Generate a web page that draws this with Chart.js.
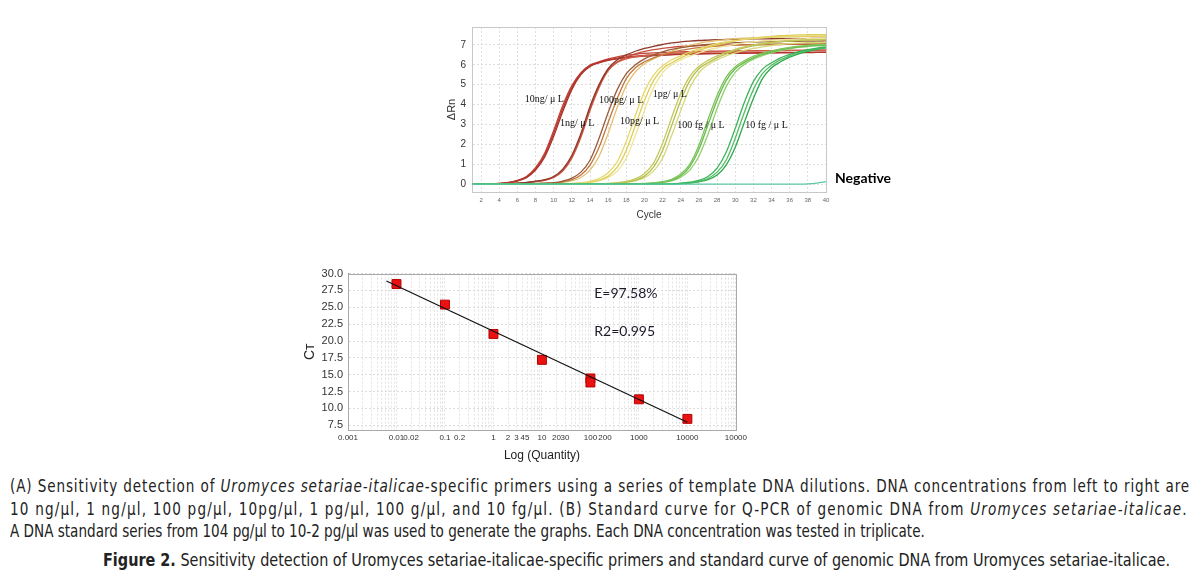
<!DOCTYPE html>
<html>
<head>
<meta charset="utf-8">
<script src="https://cdn.jsdelivr.net/npm/chart.js@4.4.1/dist/chart.umd.min.js"></script>
<style>
body { margin:0; background:#fff; width:1204px; height:580px; position:relative; overflow:hidden; }
#box_amp { position:absolute; left:436px; top:15px; width:464px; height:215px; }
#box_std { position:absolute; left:290px; top:262px; width:460px; height:205px; }
.cap { position:absolute; left:10px; white-space:nowrap; font-family:"Liberation Sans Narrow","DejaVu Sans","Liberation Sans",sans-serif; font-stretch:condensed; font-size:17px; line-height:20px; color:#222; transform-origin:0 50%; }
</style>
</head>
<body>
<div id="box_amp"><canvas id="amp_chart" width="464" height="215"></canvas></div>
<div id="box_std"><canvas id="std_chart" width="460" height="205"></canvas></div>

<div class="cap" id="cap1" style="top:476px">(A) Sensitivity detection of <i>Uromyces setariae-italicae</i>-specific primers using a series of template DNA dilutions. DNA concentrations from left to right are</div>
<div class="cap" id="cap2" style="top:499px">10 ng/μl, 1 ng/μl, 100 pg/μl, 10pg/μl, 1 pg/μl, 100 g/μl, and 10 fg/μl. (B) Standard curve for Q-PCR of genomic DNA from <i>Uromyces setariae-italicae</i>.</div>
<div class="cap" id="cap3" style="top:521px">A DNA standard series from 104 pg/μl to 10-2 pg/μl was used to generate the graphs. Each DNA concentration was tested in triplicate.</div>
<div class="cap" id="cap4" style="top:550px;left:103px"><b>Figure 2.</b> Sensitivity detection of Uromyces setariae-italicae-specific primers and standard curve of genomic DNA from Uromyces setariae-italicae.</div>

<script>
// --- (A) amplification curves, ΔRn per cycle ---
let cycles = [1,2,3,4,5,6,7,8,9,10,11,12,13,14,15,16,17,18,19,20,21,22,23,24,25,26,27,28,29,30,31,32,33,34,35,36,37,38,39,40];

let rn_10ng_a = [0,0,0.01,0.03,0.07,0.17,0.35,0.75,1.45,2.55,3.8,4.85,5.55,5.95,6.12,6.25,6.33,6.4,6.44,6.47,6.5,6.52,6.54,6.55,6.56,6.57,6.58,6.58,6.59,6.6,6.6,6.6,6.61,6.61,6.62,6.62,6.62,6.63,6.63,6.63];
let rn_10ng_b = [0,0,0.01,0.03,0.08,0.19,0.38,0.82,1.55,2.7,3.95,4.95,5.6,5.98,6.15,6.3,6.4,6.48,6.53,6.57,6.6,6.62,6.64,6.65,6.66,6.67,6.68,6.68,6.69,6.7,6.7,6.7,6.71,6.71,6.72,6.72,6.72,6.73,6.73,6.73];
let rn_10ng_c = [0,0,0.01,0.02,0.06,0.15,0.32,0.7,1.35,2.4,3.65,4.75,5.5,5.92,6.1,6.22,6.3,6.36,6.4,6.43,6.46,6.48,6.5,6.52,6.53,6.54,6.55,6.56,6.57,6.58,6.58,6.59,6.59,6.6,6.6,6.6,6.61,6.61,6.62,6.62];

let rn_1ng_a = [0,0,0,0.01,0.02,0.04,0.08,0.14,0.22,0.38,0.75,1.45,2.55,3.9,5.0,5.8,6.25,6.5,6.68,6.82,6.93,7.02,7.1,7.15,7.19,7.22,7.24,7.26,7.27,7.28,7.29,7.3,7.3,7.31,7.31,7.32,7.32,7.32,7.33,7.33];
let rn_1ng_b = [0,0,0,0.01,0.02,0.04,0.07,0.13,0.2,0.35,0.7,1.35,2.45,3.8,4.95,5.75,6.15,6.38,6.55,6.67,6.76,6.83,6.88,6.92,6.95,6.97,6.98,6.99,7.0,7.0,7.01,7.01,7.02,7.02,7.02,7.03,7.03,7.03,7.03,7.04];
let rn_1ng_c = [0,0,0,0.01,0.02,0.03,0.06,0.12,0.19,0.33,0.65,1.3,2.35,3.7,4.85,5.7,6.12,6.3,6.4,6.46,6.5,6.54,6.57,6.6,6.62,6.64,6.65,6.66,6.67,6.68,6.69,6.7,6.7,6.71,6.71,6.72,6.72,6.72,6.73,6.73];

let rn_100pg_a = [0,0,0,0,0,0.01,0.02,0.03,0.05,0.07,0.15,0.3,0.6,1.2,2.3,3.6,4.75,5.55,6.0,6.3,6.5,6.65,6.77,6.86,6.93,6.98,7.02,7.06,7.09,7.11,7.13,7.14,7.15,7.16,7.17,7.18,7.18,7.19,7.19,7.2];
let rn_100pg_b = [0,0,0,0,0,0,0.01,0.02,0.03,0.05,0.11,0.22,0.45,0.95,1.85,3.1,4.3,5.3,5.85,6.15,6.35,6.5,6.62,6.72,6.8,6.86,6.9,6.94,6.97,6.99,7.0,7.01,7.02,7.03,7.04,7.04,7.05,7.05,7.05,7.06];
let rn_100pg_c = [0,0,0,0,0,0,0,0.01,0.02,0.04,0.08,0.17,0.33,0.7,1.4,2.55,3.85,4.95,5.65,6.05,6.3,6.5,6.68,6.85,6.98,7.08,7.16,7.22,7.27,7.31,7.34,7.36,7.38,7.39,7.4,7.41,7.41,7.42,7.42,7.42];

let rn_10pg_a = [0,0,0,0,0,0,0,0,0,0,0.01,0.03,0.07,0.14,0.28,0.57,1.12,2.15,3.45,4.65,5.48,5.95,6.25,6.45,6.65,6.8,6.95,7.06,7.15,7.22,7.28,7.32,7.36,7.39,7.41,7.43,7.44,7.45,7.45,7.46];
let rn_10pg_b = [0,0,0,0,0,0,0,0,0,0,0.01,0.02,0.05,0.1,0.2,0.4,0.85,1.7,2.95,4.2,5.2,5.8,6.1,6.35,6.55,6.72,6.88,7.0,7.1,7.2,7.28,7.34,7.39,7.43,7.46,7.48,7.5,7.51,7.52,7.52];
let rn_10pg_c = [0,0,0,0,0,0,0,0,0,0,0,0.02,0.04,0.08,0.16,0.32,0.65,1.3,2.45,3.7,4.85,5.6,6.0,6.25,6.45,6.6,6.75,6.85,6.95,7.03,7.1,7.15,7.2,7.23,7.26,7.28,7.3,7.31,7.32,7.33];

let rn_1pg_a = [0,0,0,0,0,0,0,0,0,0,0,0,0,0,0.01,0.03,0.07,0.13,0.26,0.53,1.05,2.05,3.35,4.55,5.42,5.92,6.22,6.45,6.62,6.78,6.9,7.0,7.08,7.14,7.18,7.21,7.23,7.25,7.26,7.27];
let rn_1pg_b = [0,0,0,0,0,0,0,0,0,0,0,0,0,0,0,0.02,0.05,0.1,0.2,0.4,0.85,1.7,2.95,4.2,5.2,5.8,6.1,6.35,6.55,6.72,6.85,6.95,7.03,7.1,7.15,7.19,7.22,7.24,7.25,7.26];
let rn_1pg_c = [0,0,0,0,0,0,0,0,0,0,0,0,0,0,0,0.01,0.04,0.08,0.16,0.32,0.65,1.3,2.45,3.7,4.85,5.6,6.0,6.25,6.45,6.6,6.72,6.82,6.9,6.97,7.02,7.06,7.09,7.11,7.12,7.13];

let rn_100fg_a = [0,0,0,0,0,0,0,0,0,0,0,0,0,0,0,0,0,0,0.01,0.03,0.06,0.12,0.24,0.5,1.0,1.95,3.25,4.45,5.38,5.9,6.2,6.42,6.58,6.7,6.8,6.88,6.94,6.98,7.01,7.03];
let rn_100fg_b = [0,0,0,0,0,0,0,0,0,0,0,0,0,0,0,0,0,0,0,0.02,0.05,0.1,0.2,0.42,0.88,1.75,2.98,4.22,5.2,5.8,6.12,6.35,6.52,6.65,6.76,6.84,6.9,6.95,6.98,7.0];
let rn_100fg_c = [0,0,0,0,0,0,0,0,0,0,0,0,0,0,0,0,0,0,0,0.01,0.04,0.08,0.16,0.34,0.7,1.4,2.5,3.8,4.9,5.62,6.02,6.28,6.46,6.6,6.72,6.8,6.87,6.92,6.95,6.97];

let rn_10fg_a = [0,0,0,0,0,0,0,0,0,0,0,0,0,0,0,0,0,0,0,0,0,0,0.02,0.04,0.09,0.18,0.38,0.8,1.6,2.8,4.1,5.15,5.78,6.1,6.35,6.52,6.66,6.76,6.84,6.9];
let rn_10fg_b = [0,0,0,0,0,0,0,0,0,0,0,0,0,0,0,0,0,0,0,0,0,0,0,0.03,0.07,0.14,0.28,0.6,1.2,2.3,3.6,4.75,5.55,5.98,6.25,6.45,6.6,6.72,6.8,6.86];
let rn_10fg_c = [0,0,0,0,0,0,0,0,0,0,0,0,0,0,0,0,0,0,0,0,0,0,0,0.02,0.05,0.11,0.22,0.45,0.95,1.85,3.1,4.3,5.3,5.85,6.15,6.38,6.55,6.68,6.78,6.85];

let rn_negative = [0,0,0,0,0,0,0,0,0,0,0,0,0,0,0,0,0,0,0,0,0,0,0,0,0,0,0,0,0,0,0,0,0,0,0,0,0,0.01,0.05,0.12];

let amp_y_ticks = [0,1,2,3,4,5,6,7];
let amp_x_ticks = [2,4,6,8,10,12,14,16,18,20,22,24,26,28,30,32,34,36,38,40];

// curve labels written inside the plot (data coordinates)
let amp_labels = [
    { text: '10ng/ μ L', x: 6.8, y: 4.28 },
    { text: '1ng/ μ L', x: 10.7, y: 3.03 },
    { text: '100pg/ μ L', x: 15.0, y: 4.23 },
    { text: '10pg/ μ L', x: 17.3, y: 3.13 },
    { text: '1pg/ μ L', x: 20.9, y: 4.53 },
    { text: '100 fg / μ L', x: 23.6, y: 2.93 },
    { text: '10 fg / μ L', x: 31.1, y: 2.93 }
];

// --- (B) standard curve ---
let std_quantity = [0.01, 0.1, 1, 10, 100, 100, 1000, 10000];
let std_ct = [28.45, 25.4, 21.05, 17.2, 14.45, 13.85, 11.35, 8.45];
let fit_quantity = [0.0062, 10000];
let fit_ct = [28.9, 7.95];
let std_tick_values = [0.001, 0.01, 0.02, 0.1, 0.2, 1, 2, 3, 4, 5, 10, 20, 30, 100, 200, 1000, 10000, 100000];
let std_tick_labels = ['0.001', '0.01', '0.02', '0.1', '0.2', '1', '2', '3', '4', '5', '10', '20', '30', '100', '200', '1000', '10000', '10000'];
let std_y_ticks = [7.5, 10, 12.5, 15, 17.5, 20, 22.5, 25, 27.5, 30];

function toPoints(xs, ys) {
    return xs.map((x, i) => ({ x: x, y: ys[i] }));
}

function curve(values, color) {
    return {
        data: toPoints(cycles, values),
        borderColor: color,
        borderWidth: 1.3,
        pointRadius: 0,
        fill: false,
        cubicInterpolationMode: 'monotone'
    };
}

// box around the plot area + free text
const boxPlugin = {
    id: 'boxPlugin',
    beforeDatasetsDraw(chart, args, opts) {
        const a = chart.chartArea, ctx = chart.ctx;
        ctx.save();
        ctx.strokeStyle = opts.color || '#bbb';
        ctx.lineWidth = 1;
        ctx.strokeRect(Math.round(a.left) + 0.5, Math.round(a.top) + 0.5, Math.round(a.right - a.left), Math.round(a.bottom - a.top));
        ctx.restore();
    },
    afterDatasetsDraw(chart, args, opts) {
        if (!opts.texts) return;
        const ctx = chart.ctx, xs = chart.scales.x, ys = chart.scales.y;
        ctx.save();
        opts.texts.forEach(t => {
            ctx.font = t.font || opts.font;
            ctx.fillStyle = t.color || '#111';
            ctx.textAlign = 'left';
            ctx.textBaseline = 'middle';
            ctx.fillText(t.text, xs.getPixelForValue(t.x) + (t.dx || 0), ys.getPixelForValue(t.y));
        });
        ctx.restore();
    }
};

let amp_texts = amp_labels.slice();
amp_texts.push({ text: 'Negative', x: 40, y: 0.3, dx: 9, font: 'bold 14px Lato', color: '#000' });

new Chart(document.getElementById('amp_chart'), {
    type: 'line',
    data: {
        datasets: [
            curve(rn_negative, '#5cc8a6'),
            curve(rn_10fg_a, '#3db35a'), curve(rn_10fg_b, '#52be66'), curve(rn_10fg_c, '#2fa84c'),
            curve(rn_100fg_a, '#7dc55a'), curve(rn_100fg_b, '#66bb4c'), curve(rn_100fg_c, '#92d070'),
            curve(rn_1pg_a, '#c5c85a'), curve(rn_1pg_b, '#b3bf50'), curve(rn_1pg_c, '#d6d878'),
            curve(rn_10pg_a, '#e6d86a'), curve(rn_10pg_b, '#dccf5a'), curve(rn_10pg_c, '#eee59a'),
            curve(rn_100pg_a, '#9a5c3c'), curve(rn_100pg_b, '#c07840'), curve(rn_100pg_c, '#e2c070'),
            curve(rn_1ng_a, '#8e3a2a'), curve(rn_1ng_b, '#c4503c'), curve(rn_1ng_c, '#d06048'),
            curve(rn_10ng_a, '#b5352c'), curve(rn_10ng_b, '#c04438'), curve(rn_10ng_c, '#a83028')
        ]
    },
    options: {
        responsive: false,
        animation: false,
        layout: { padding: { top: 9, right: 74, left: 0, bottom: 0 } },
        plugins: {
            legend: { display: false },
            tooltip: { enabled: false },
            boxPlugin: { color: '#c8c8c8', font: '10px "Liberation Serif"', texts: amp_texts }
        },
        scales: {
            x: {
                type: 'linear',
                min: 1,
                max: 40,
                afterBuildTicks: s => { s.ticks = amp_x_ticks.map(v => ({ value: v })); },
                afterFit: s => { s.height = 38; },
                ticks: { font: { size: 6, family: 'Liberation Sans' }, color: '#666', padding: 5, maxRotation: 0, autoSkip: false },
                grid: { color: '#dedede', drawTicks: false },
                border: { display: true, color: '#888', dash: [2, 2] },
                title: { display: true, text: 'Cycle', font: { size: 10, family: 'Liberation Sans' }, color: '#333', padding: { top: 0, bottom: 9 } }
            },
            y: {
                min: -0.4,
                max: 7.9,
                afterBuildTicks: s => { s.ticks = amp_y_ticks.map(v => ({ value: v })); },
                afterFit: s => { s.width = 36; },
                ticks: { font: { size: 10, family: 'Liberation Sans' }, color: '#333', padding: 6 },
                grid: { color: '#dedede', drawTicks: false },
                border: { display: true, color: '#888', dash: [2, 2] },
                title: { display: true, text: 'ΔRn', font: { size: 11, family: 'Liberation Sans' }, color: '#333', padding: { top: 9, bottom: 0 } }
            }
        }
    },
    plugins: [boxPlugin]
});

// all 1..9 x 10^k ticks for the log grid
let std_grid = [];
for (let k = -3; k <= 4; k++) {
    for (let m = 1; m <= 9; m++) std_grid.push(m * Math.pow(10, k));
}
std_grid.push(100000);

function stdLabel(v) {
    for (let i = 0; i < std_tick_values.length; i++) {
        if (Math.abs(Math.log10(v) - Math.log10(std_tick_values[i])) < 1e-6) return std_tick_labels[i];
    }
    return '';
}

new Chart(document.getElementById('std_chart'), {
    type: 'scatter',
    data: {
        datasets: [
            {
                data: toPoints(fit_quantity, fit_ct),
                showLine: true,
                borderColor: '#111',
                borderWidth: 1.2,
                pointRadius: 0
            },
            {
                data: toPoints(std_quantity, std_ct),
                pointStyle: 'rect',
                pointRadius: 6.3,
                backgroundColor: '#e81212',
                borderColor: '#b80000',
                borderWidth: 1
            }
        ]
    },
    options: {
        responsive: false,
        animation: false,
        layout: { padding: { top: 11, right: 13, left: 0, bottom: 0 } },
        plugins: {
            legend: { display: false },
            tooltip: { enabled: false },
            boxPlugin: {
                color: '#aaa',
                font: '14px Lato',
                texts: [
                    { text: 'E=97.58%', x: 120, y: 27.08, color: '#1a1a2a' },
                    { text: 'R2=0.995', x: 120, y: 21.44, color: '#1a1a2a' }
                ]
            }
        },
        scales: {
            x: {
                type: 'logarithmic',
                min: 0.001,
                max: 100000,
                afterBuildTicks: s => { s.ticks = std_grid.map(v => ({ value: v })); },
                afterFit: s => { s.height = 37; },
                ticks: { callback: v => stdLabel(v), font: { size: 8, family: 'Liberation Sans' }, color: '#333', padding: 3, maxRotation: 0, minRotation: 0, autoSkip: false },
                grid: { color: '#e2e2e2', drawTicks: false },
                border: { display: true, color: '#888', dash: [2, 2] },
                title: { display: true, text: 'Log (Quantity)', font: { size: 12, family: 'Liberation Sans' }, color: '#222', padding: { top: 0, bottom: 4 } }
            },
            y: {
                min: 6.8,
                max: 30,
                afterBuildTicks: s => { s.ticks = std_y_ticks.map(v => ({ value: v })); },
                afterFit: s => { s.width = 58; },
                ticks: { callback: v => v.toFixed(1), font: { size: 11, family: 'Liberation Sans' }, color: '#333', padding: 5 },
                grid: { color: '#dcdcdc', drawTicks: false },
                border: { display: true, color: '#888', dash: [2, 2] },
                title: { display: true, text: 'Cᴛ', font: { size: 14, family: 'Liberation Sans' }, color: '#222', padding: { top: 12, bottom: 0 } }
            }
        }
    },
    plugins: [boxPlugin]
});

// caption: lines 1-3 share one horizontal squeeze (taken from the last,
// unjustified line); lines 1-2 are stretched to full width with letter spacing
let cap3 = document.getElementById('cap3');
let squeeze = 915 / cap3.scrollWidth;
let cap_targets = { cap1: 1180, cap2: 1178, cap3: 915 };
Object.keys(cap_targets).forEach(id => {
    let el = document.getElementById(id);
    el.style.transform = 'scaleX(' + squeeze + ')';
    if (id !== 'cap3') {
        let chars = el.textContent.length;
        let extra = cap_targets[id] / squeeze - el.scrollWidth;
        el.style.letterSpacing = (extra / chars) + 'px';
    }
});
let cap4 = document.getElementById('cap4');
cap4.style.transform = 'scaleX(' + (1067 / cap4.scrollWidth) + ')';
</script>
</body>
</html>
